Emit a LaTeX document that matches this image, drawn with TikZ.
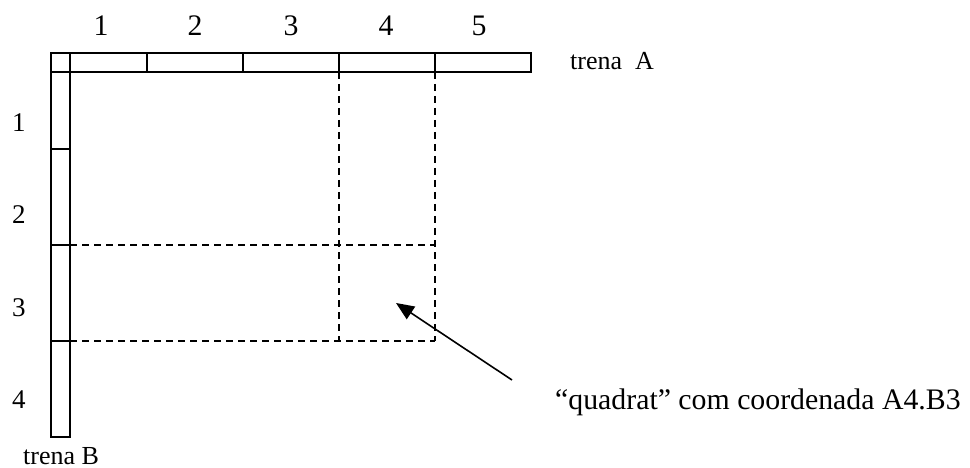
\documentclass[tikz,border=0pt]{standalone}
\usepackage{fontspec}
\setmainfont{Liberation Serif}
\usetikzlibrary{arrows.meta}
\begin{document}
\begin{tikzpicture}[x=1pt,y=-1pt,
  bar/.style={line width=1.9pt},
  grid/.style={line width=1.4pt,dash pattern=on 7pt off 5pt},
  big/.style={font=\fontsize{29.8}{36}\selectfont,inner sep=0pt},
  mid/.style={font=\fontsize{27}{32}\selectfont,inner sep=0pt},
  small/.style={font=\fontsize{26}{31}\selectfont,inner sep=0pt},
  pointer/.style={line width=1.6pt,-{Triangle[length=18pt,width=15pt]}}]
\useasboundingbox (0,0) rectangle (970,468);
% tapes
\draw[bar] (51,53) rectangle (531,72);
\draw[bar] (51,72) rectangle (70,437);
\draw[bar] (70,53) -- (70,72);
\foreach \xx in {147,243,339,435} \draw[bar] (\xx,53) -- (\xx,72);
\foreach \yy in {149,245,341} \draw[bar] (51,\yy) -- (70,\yy);
% dashed quadrat lines
\coordinate (v1t) at (339,72); \coordinate (v1b) at (339,341);
\coordinate (v2t) at (435,72); \coordinate (v2b) at (435,341);
\coordinate (h1l) at (70,245); \coordinate (h1r) at (435,245);
\coordinate (h2l) at (70,341); \coordinate (h2r) at (435,341);
\draw[grid] (v1t) -- (v1b);
\draw[grid] (v2t) -- (v2b);
\draw[grid] (h1l) -- (h1r);
\draw[grid] (h2l) -- (h2r);
% top labels
\node[big,anchor=base] (a1) at (101,36) {1};
\node[big,anchor=base] (a2) at (195,36) {2};
\node[big,anchor=base] (a3) at (291,36) {3};
\node[big,anchor=base] (a4) at (386,36) {4};
\node[big,anchor=base] (a5) at (479,36) {5};
% left labels
\node[mid,anchor=base] (b1) at (19,132) {1};
\node[mid,anchor=base] (b2) at (19,223) {2};
\node[mid,anchor=base] (b3) at (19,316) {3};
\node[mid,anchor=base] (b4) at (19,408) {4};
\node[small,anchor=base west] (ta) at (570,70) {trena\ \ A};
\node[small,anchor=base west] (tb) at (23,464) {trena B};
\node[big,anchor=base west] (q) at (555,409) {“quadrat” com coordenada A4.B3};
\coordinate (tail) at (512,380);
\coordinate (tip) at (396,303);
\draw[pointer] (tail) -- (tip);
\end{tikzpicture}
\end{document}
